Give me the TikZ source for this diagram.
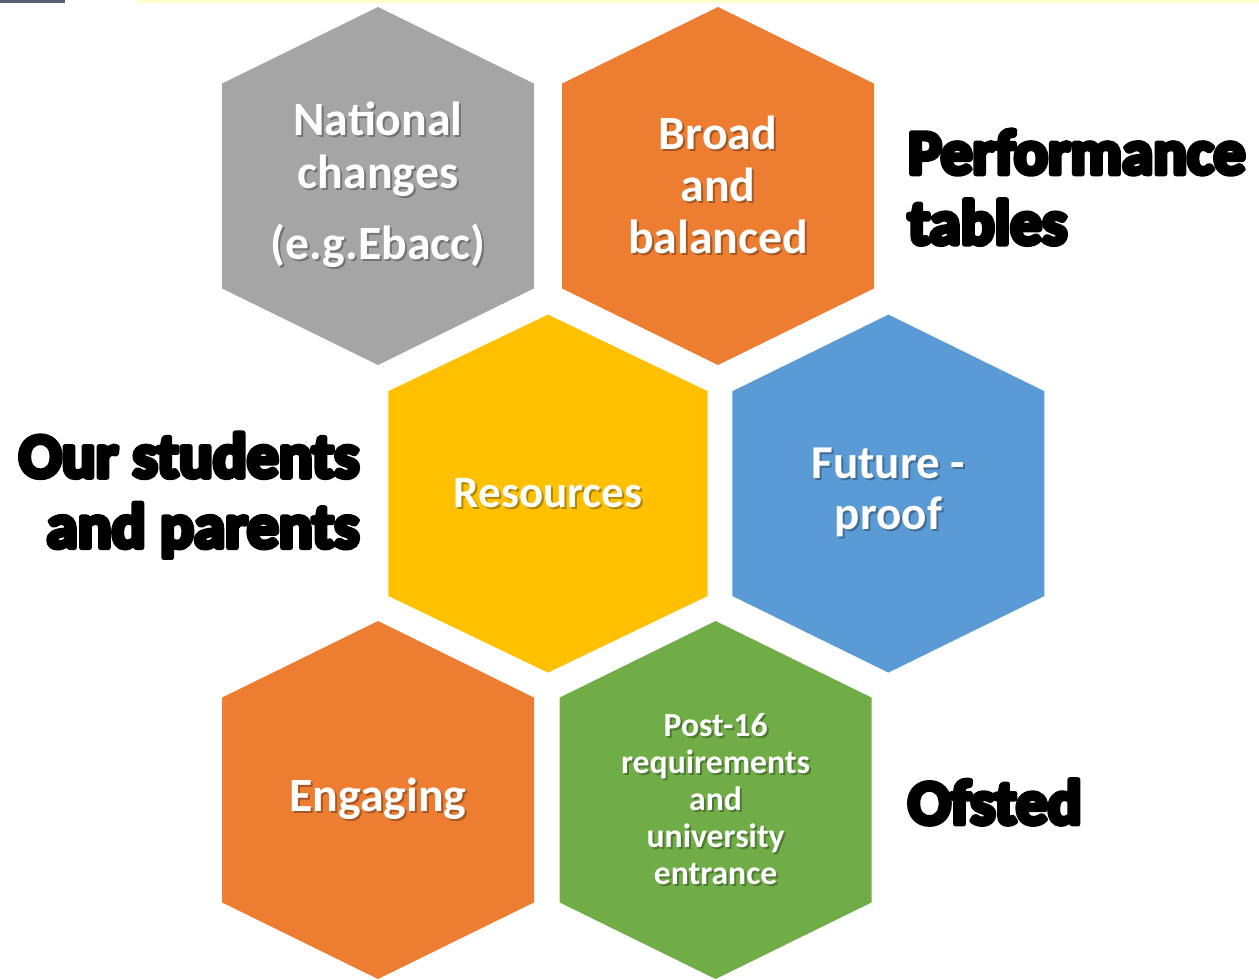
\documentclass[tikz,border=0pt]{standalone}
\usepackage{fontspec}
\setmainfont{Carlito}
\usetikzlibrary{backgrounds}
\definecolor{hexgray}{HTML}{A5A5A5}
\definecolor{hexorange}{HTML}{ED7D31}
\definecolor{hexyellow}{HTML}{FFC000}
\definecolor{hexblue}{HTML}{5B9BD5}
\definecolor{hexgreen}{HTML}{70AD47}
\definecolor{topstrip}{HTML}{FFFFCC}
\definecolor{topcorner}{HTML}{5A6270}
\newcommand\shd[1]{\makebox[0pt][l]{\hspace{0.05cm}\raisebox{-0.05cm}{\textcolor{shd}{#1}}}#1}
\newcommand\heavyon{\special{pdf:literal direct 0 0 0 RG 3.5 w 1 j 2 Tr}}
\newcommand\heavyoff{\special{pdf:literal direct 0 Tr}}
% hexagon round a named node: [half width]{node}{colour}
\newcommand\hexfill[3][3.9]{\fill[#3] (#2.center) +(0,4.475) -- +(#1,2.56) -- +(#1,-2.56) -- +(0,-4.475) -- +(-#1,-2.56) -- +(-#1,2.56) -- cycle;}
\begin{document}
\begin{tikzpicture}[scale=1,inner sep=0pt,outer sep=0pt,
hexa/.style={text=white,align=center,execute at begin node={\colorlet{shd}{#1!70!black}}},
bigword/.style={font={\bfseries\fontsize{45}{50}\selectfont},text=black,execute at begin node=\heavyon,execute at end node=\heavyoff}]

\useasboundingbox (0,0) rectangle (31.475,-24.475);
\fill[topcorner] (0,0) rectangle (1.62,-0.075);
\fill[topstrip] (3.42,0) rectangle (31.475,-0.075);

\draw (9.45,-4.65) node[hexa=hexgray,font={\bfseries\fontsize{34}{37.7}\selectfont}] (national) {\shd{National}\\\shd{changes}\\[0.45cm]\shd{(e.g.Ebacc)}};
\draw (17.95,-4.65) node[hexa=hexorange,font={\bfseries\fontsize{34}{37}\selectfont}] (broad) {\shd{Broad}\\\shd{and}\\\shd{balanced}};
\draw (13.7,-12.34) node[hexa=hexyellow,font={\bfseries\fontsize{32}{36}\selectfont}] (resources) {\shd{Resources}};
\draw (22.21,-12.34) node[hexa=hexblue,font={\bfseries\fontsize{33.5}{36}\selectfont}] (future) {\shd{Future -}\\\shd{proof}};
\draw (9.45,-20) node[hexa=hexorange,font={\bfseries\fontsize{34}{37}\selectfont}] (engaging) {\shd{Engaging}};
\draw (17.89,-20) node[hexa=hexgreen,font={\bfseries\fontsize{24}{26.3}\selectfont}] (post) {\shd{Post-16}\\\shd{requirements}\\\shd{and}\\\shd{university}\\\shd{entrance}};

\begin{scope}[on background layer]
\hexfill{national}{hexgray}
\hexfill{broad}{hexorange}
\hexfill[3.99]{resources}{hexyellow}
\hexfill{future}{hexblue}
\hexfill{engaging}{hexorange}
\hexfill{post}{hexgreen}
\end{scope}

\draw (22.7,-4.68) node[bigword,anchor=west,align=left] (perf) {Performance\\tables};
\draw (8.98,-12.38) node[bigword,anchor=east,align=right] (students) {Our students\\and parents};
\draw (22.7,-20.05) node[bigword,anchor=west] (ofsted) {Ofsted};
\end{tikzpicture}
\end{document}
